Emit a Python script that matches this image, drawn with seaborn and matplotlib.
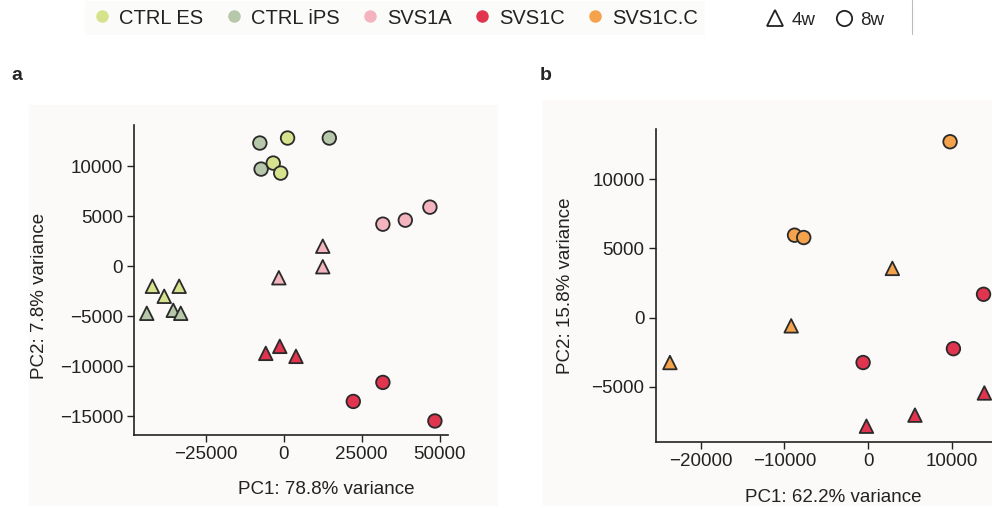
import pandas as pd
import seaborn as sns
import matplotlib.pyplot as plt
from matplotlib.lines import Line2D
from matplotlib.patches import Rectangle

# panel a: all lines
groups_a = ["CTRL iPS", "CTRL iPS", "CTRL iPS", "CTRL ES", "CTRL ES", "CTRL ES",
            "CTRL ES", "CTRL ES", "CTRL ES", "CTRL iPS", "CTRL iPS", "CTRL iPS",
            "SVS1A", "SVS1A", "SVS1A", "SVS1A", "SVS1A", "SVS1A",
            "SVS1C", "SVS1C", "SVS1C", "SVS1C", "SVS1C", "SVS1C"]
ages_a = ["8w", "8w", "8w", "8w", "8w", "8w",
          "4w", "4w", "4w", "4w", "4w", "4w",
          "8w", "8w", "8w", "4w", "4w", "4w",
          "4w", "4w", "4w", "8w", "8w", "8w"]
pc1_a = [-7700, -7300, 14600, 1200, -3400, -1000,
         -42200, -38400, -33600, -44000, -35500, -33100,
         31800, 39000, 46900, 12500, 12500, -1600,
         -5800, -1300, 3900, 22300, 31800, 48500]
pc2_a = [12300, 9700, 12800, 12800, 10300, 9300,
         -2000, -3000, -2000, -4700, -4400, -4700,
         4200, 4600, 5900, 2000, -50, -1150,
         -8700, -8000, -9000, -13500, -11600, -15450]

# panel b: SVS1C vs corrected
groups_b = ["SVS1C.C", "SVS1C.C", "SVS1C.C", "SVS1C.C", "SVS1C.C", "SVS1C.C",
            "SVS1C", "SVS1C", "SVS1C", "SVS1C", "SVS1C", "SVS1C"]
ages_b = ["8w", "8w", "8w", "4w", "4w", "4w",
          "8w", "8w", "8w", "4w", "4w", "4w"]
pc1_b = [9800, -8800, -7700, 2900, -9200, -23700,
         13800, 10200, -600, -200, 5600, 13900]
pc2_b = [12700, 5950, 5780, 3550, -600, -3250,
         1680, -2250, -3250, -7850, -7050, -5450]

group_order = ["CTRL ES", "CTRL iPS", "SVS1A", "SVS1C", "SVS1C.C"]
colors = ["#d6e28c", "#b7c7a9", "#f3b4bf", "#e0344f", "#f4a24c"]
palette = dict(zip(group_order, colors))
markers = {"4w": "^", "8w": "o"}

sns.set_style("ticks")
plt.rcParams["font.family"] = ["Liberation Sans", "DejaVu Sans"]

df_a = pd.DataFrame({"group": groups_a, "age": ages_a, "PC1": pc1_a, "PC2": pc2_a})
df_b = pd.DataFrame({"group": groups_b, "age": ages_b, "PC1": pc1_b, "PC2": pc2_b})

fig = plt.figure(figsize=(9.92, 5.08), dpi=100)
panel_bg = "#fbfaf8"
fig.patches.append(Rectangle((29 / 992, 3 / 508), 468 / 992, 400 / 508,
                             transform=fig.transFigure, color=panel_bg, zorder=-10))
fig.patches.append(Rectangle((543 / 992, 3 / 508), 449 / 992, 405 / 508,
                             transform=fig.transFigure, color=panel_bg, zorder=-10))

ax_a = fig.add_axes([0.1354, 0.1437, 0.3165, 0.6102])
ax_b = fig.add_axes([0.661, 0.1305, 0.349, 0.615])

for ax, df in [(ax_a, df_a), (ax_b, df_b)]:
    ax.set_facecolor("none")
    sns.scatterplot(data=df, x="PC1", y="PC2", hue="group", style="age",
                    palette=palette, markers=markers, s=95,
                    edgecolor="#2a2a2a", linewidth=1.3, legend=False, ax=ax,
                    zorder=3, clip_on=False)
    sns.despine(ax=ax)
    for sp in ["left", "bottom"]:
        ax.spines[sp].set_linewidth(1.2)
        ax.spines[sp].set_color("#222222")
    ax.tick_params(direction="out", length=5, width=1, labelsize=13.5,
                   colors="#222222", pad=3)

ax_a.set_xlim(-48000, 52800)
ax_a.set_ylim(-16850, 14100)
ax_a.set_xticks([-25000, 0, 25000, 50000])
ax_a.set_yticks([-15000, -10000, -5000, 0, 5000, 10000])
ax_a.set_xlabel("PC1: 78.8% variance", fontsize=13.5, color="#222222")
ax_a.set_ylabel("PC2: 7.8% variance", fontsize=13.5, color="#222222")
ax_a.xaxis.set_label_coords(0.61, -0.15)
ax_a.yaxis.set_label_coords(-0.275, 0.45)

ax_b.set_xlim(-25400, 16000)
ax_b.set_ylim(-8970, 13600)
ax_b.set_xticks([-20000, -10000, 0, 10000])
ax_b.set_yticks([-5000, 0, 5000, 10000])
ax_b.set_xlabel("PC1: 62.2% variance", fontsize=13.5, color="#222222")
ax_b.set_ylabel("PC2: 15.8% variance", fontsize=13.5, color="#222222")
ax_b.xaxis.set_label_coords(0.512, -0.15)
ax_b.yaxis.set_label_coords(-0.235, 0.5)

fig.text(11 / 992, 1 - 76 / 508, "a", fontsize=14, fontweight="bold", va="center")
fig.text(540 / 992, 1 - 75 / 508, "b", fontsize=14, fontweight="bold", va="center")

# legends
group_handles = [Line2D([], [], linestyle="", marker="o", markersize=9,
                        markerfacecolor=c, markeredgecolor="none", label=g)
                 for g, c in zip(group_order, colors)]
leg1 = fig.legend(handles=group_handles, loc="center", ncol=5,
                  bbox_to_anchor=(395 / 992, 1 - 18 / 508), frameon=True,
                  fontsize=14.5, handletextpad=0.35, columnspacing=1.0,
                  borderpad=0.35, handlelength=1.0)
leg1.get_frame().set_facecolor(panel_bg)
leg1.get_frame().set_edgecolor("none")
leg1.get_frame().set_boxstyle("square", pad=0)
for t in leg1.get_texts():
    t.set_color("#222222")

shape_handles = [Line2D([], [], linestyle="", marker=markers[a], markersize=11,
                        markerfacecolor="white", markeredgecolor="#222222",
                        markeredgewidth=1.3, label=a) for a in ["4w", "8w"]]
leg2 = fig.legend(handles=shape_handles, loc="center", ncol=2,
                  bbox_to_anchor=(825 / 992, 1 - 20 / 508), frameon=False,
                  fontsize=13.5, handletextpad=0.4, columnspacing=1.0,
                  handlelength=1.0)
fig.add_artist(Line2D([912 / 992, 912 / 992], [1 - 34 / 508, 1.0],
                      transform=fig.transFigure, color="#bbbbbb", linewidth=0.8))

fig.savefig("out.png", dpi=100)
